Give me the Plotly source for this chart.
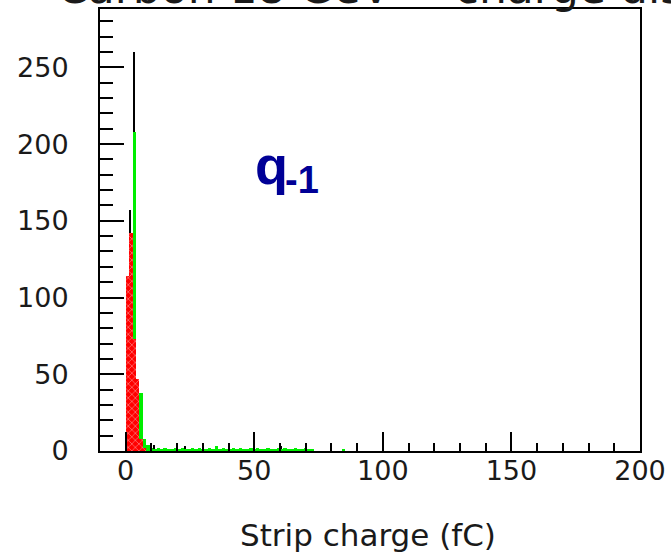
import numpy as np
import plotly.graph_objects as go

# bin width (fC) of the histograms
bin_width = 4.0 / 3.0

# counts per bin, starting at 0 fC
black_counts = [13, 157, 260, 45, 33, 5, 3, 0, 4, 0, 0, 0, 0, 0, 0, 0, 0, 3, 0, 0,
                0, 0, 0, 0, 0, 0, 3, 0, 0, 0, 0, 0, 0, 0, 0, 0, 0, 0, 0, 0,
                0, 0, 0, 0, 0, 3, 0, 0, 0, 0, 0, 0, 2, 0, 0, 0, 0, 0, 0, 0,
                0, 0, 0, 0, 0]
red_counts = [114, 142, 73, 47, 8, 2] + [0] * 59
green_counts = [0, 0, 208, 47, 38, 8, 4, 2, 1, 2, 1, 2, 1, 1, 2, 1, 2, 1, 1, 2,
                1, 2, 1, 1, 2, 1, 3, 1, 2, 1, 1, 2, 1, 2, 1, 1, 2, 1, 2, 1,
                1, 2, 1, 1, 2, 1, 2, 1, 1, 2, 1, 1, 2, 1, 1, 0, 0, 0, 0, 0,
                0, 0, 0, 1, 0]

x_ticks = [0, 50, 100, 150, 200]
y_ticks = [0, 50, 100, 150, 200, 250]

n = len(green_counts)
centers = np.arange(n) * bin_width + bin_width / 2

fig = go.Figure()
fig.add_trace(go.Bar(x=centers, y=black_counts, width=0.8, offset=-bin_width / 2,
                     marker=dict(color="black", line=dict(width=0)), showlegend=False))
fig.add_trace(go.Bar(x=centers, y=green_counts, width=bin_width,
                     marker=dict(color="#00ee00", line=dict(width=0)), showlegend=False))
fig.add_trace(go.Bar(x=centers, y=red_counts, width=bin_width,
                     marker=dict(color="#ff0000", line=dict(width=0),
                                 pattern=dict(shape="x", fgcolor="white", bgcolor="#ff0000",
                                              size=5, solidity=0.25)),
                     showlegend=False))

font_family = "DejaVu Sans"
text_color = "#1a1a1a"
fig.update_layout(
    width=671, height=553,
    margin=dict(l=100, r=31, t=9, b=102),
    paper_bgcolor="white", plot_bgcolor="white",
    barmode="overlay", bargap=0,
    font=dict(family=font_family, color=text_color, size=27),
    xaxis=dict(range=[-10, 200], tickvals=x_ticks, ticks="inside", ticklen=19, tickwidth=2,
               tickcolor="black", showline=True, linecolor="black", linewidth=2, mirror=True,
               showgrid=False, zeroline=False, ticklabelstandoff=-5, automargin=False,
               minor=dict(dtick=10, tick0=0, ticks="inside", ticklen=8, tickwidth=2,
                          tickcolor="black", showgrid=False),
               tickfont=dict(family=font_family, size=27, color=text_color)),
    yaxis=dict(range=[0, 288], tickvals=y_ticks, ticks="inside", ticklen=24, tickwidth=2,
               tickcolor="black", showline=True, linecolor="black", linewidth=2, mirror=True,
               showgrid=False, zeroline=False, ticklabelstandoff=24, automargin=False,
               minor=dict(dtick=10, tick0=0, ticks="inside", ticklen=13, tickwidth=2,
                          tickcolor="black", showgrid=False),
               tickfont=dict(family=font_family, size=27, color=text_color)),
    annotations=[
        dict(text="Strip charge (fC)", xref="paper", yref="paper", x=0.496, y=-0.19,
             xanchor="center", yanchor="middle", showarrow=False,
             font=dict(family=font_family, size=31, color=text_color)),
        dict(text="Carbon 18 GeV\u00a0\u2013\u00a0\u00a0charge distribution",
             xref="paper", yref="paper",
             x=-0.083, y=0.9853, xanchor="left", yanchor="bottom", showarrow=False,
             font=dict(family=font_family, size=44, color=text_color)),
        dict(text="<b>q</b>", xref="paper", yref="paper", x=0.283, y=0.647,
             xanchor="left", yanchor="middle", showarrow=False,
             font=dict(family="Liberation Sans", size=54, color="#000096")),
        dict(text="<b>-1</b>", xref="paper", yref="paper", x=0.339, y=0.613,
             xanchor="left", yanchor="middle", showarrow=False,
             font=dict(family="Liberation Sans", size=38, color="#000096")),
    ],
)

fig.write_html("out.html", config={"displayModeBar": False},
               post_script="document.body.style.margin='0';")
